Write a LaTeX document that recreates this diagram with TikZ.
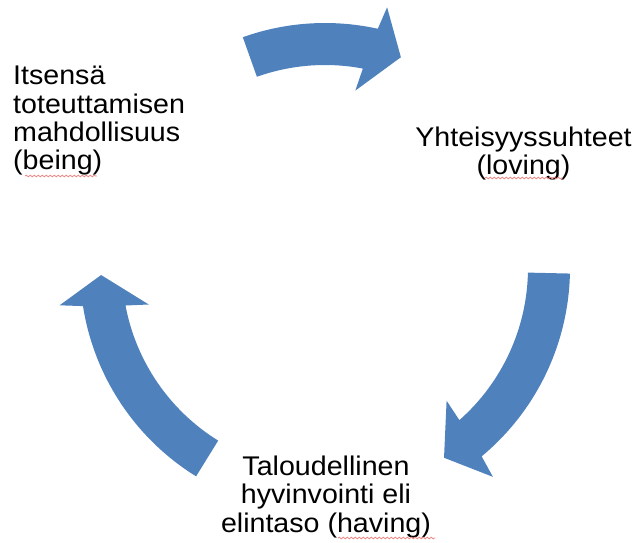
\documentclass[tikz,border=0pt]{standalone}
\usepackage{fontspec}
\setmainfont{Liberation Sans}[FakeStretch=1.06]
\usetikzlibrary{positioning,decorations.pathmorphing}

\definecolor{arrowblue}{RGB}{79,129,189}
\definecolor{spellred}{RGB}{240,135,135}

\tikzset{
  cycletext/.style={font=\fontsize{27}{28.4}\selectfont, inner sep=0pt},
  spell/.style={spellred, line width=0.8pt, decorate,
    decoration={snake, amplitude=0.8pt, segment length=4pt}}
}

% block arc arrow: #1 tail angle, #2 head base angle, #3 tip angle
\newcommand{\cyclearrow}[3]{%
  \fill[arrowblue] (#1:245pt) arc[start angle=#1, end angle=#2-0.85, radius=245pt]
    -- (#2-1.8:268pt) -- (#3:224pt) -- (#2+1.9:180pt) -- (#2+0.85:203pt)
    arc[start angle=#2+0.85, end angle=#1, radius=203pt] -- cycle;}

\begin{document}
\begin{tikzpicture}[x=1pt,y=1pt]
  \useasboundingbox (0,0) rectangle (638,542);
  \coordinate (c) at (325,274);

  % arrows
  \begin{scope}[shift={(c)}]
    \cyclearrow{109.6}{78.4}{70.2}
    \cyclearrow{-1.3}{-49.4}{-57.9}
    \cyclearrow{238.25}{189.8}{181.8}
  \end{scope}

  % texts (base = last line)
  \node[cycletext, align=left, anchor=base west] (being) at (13,372)
    {Itsensä\\toteuttamisen\\mahdollisuus\\(being)};
  \node[cycletext, align=center, anchor=base] (loving) at (523.5,367)
    {Yhteisyyssuhteet\\(loving)};
  \node[cycletext, align=center, anchor=base] (having) at (326,10)
    {Taloudellinen\\hyvinvointi eli\\elintaso (having)};

  % spell check marks
  \draw[spell] (25,366) -- (97,366);
  \draw[spell] (485,364) -- (563,364);
  \draw[spell] (338,4) -- (435,4);
\end{tikzpicture}
\end{document}
